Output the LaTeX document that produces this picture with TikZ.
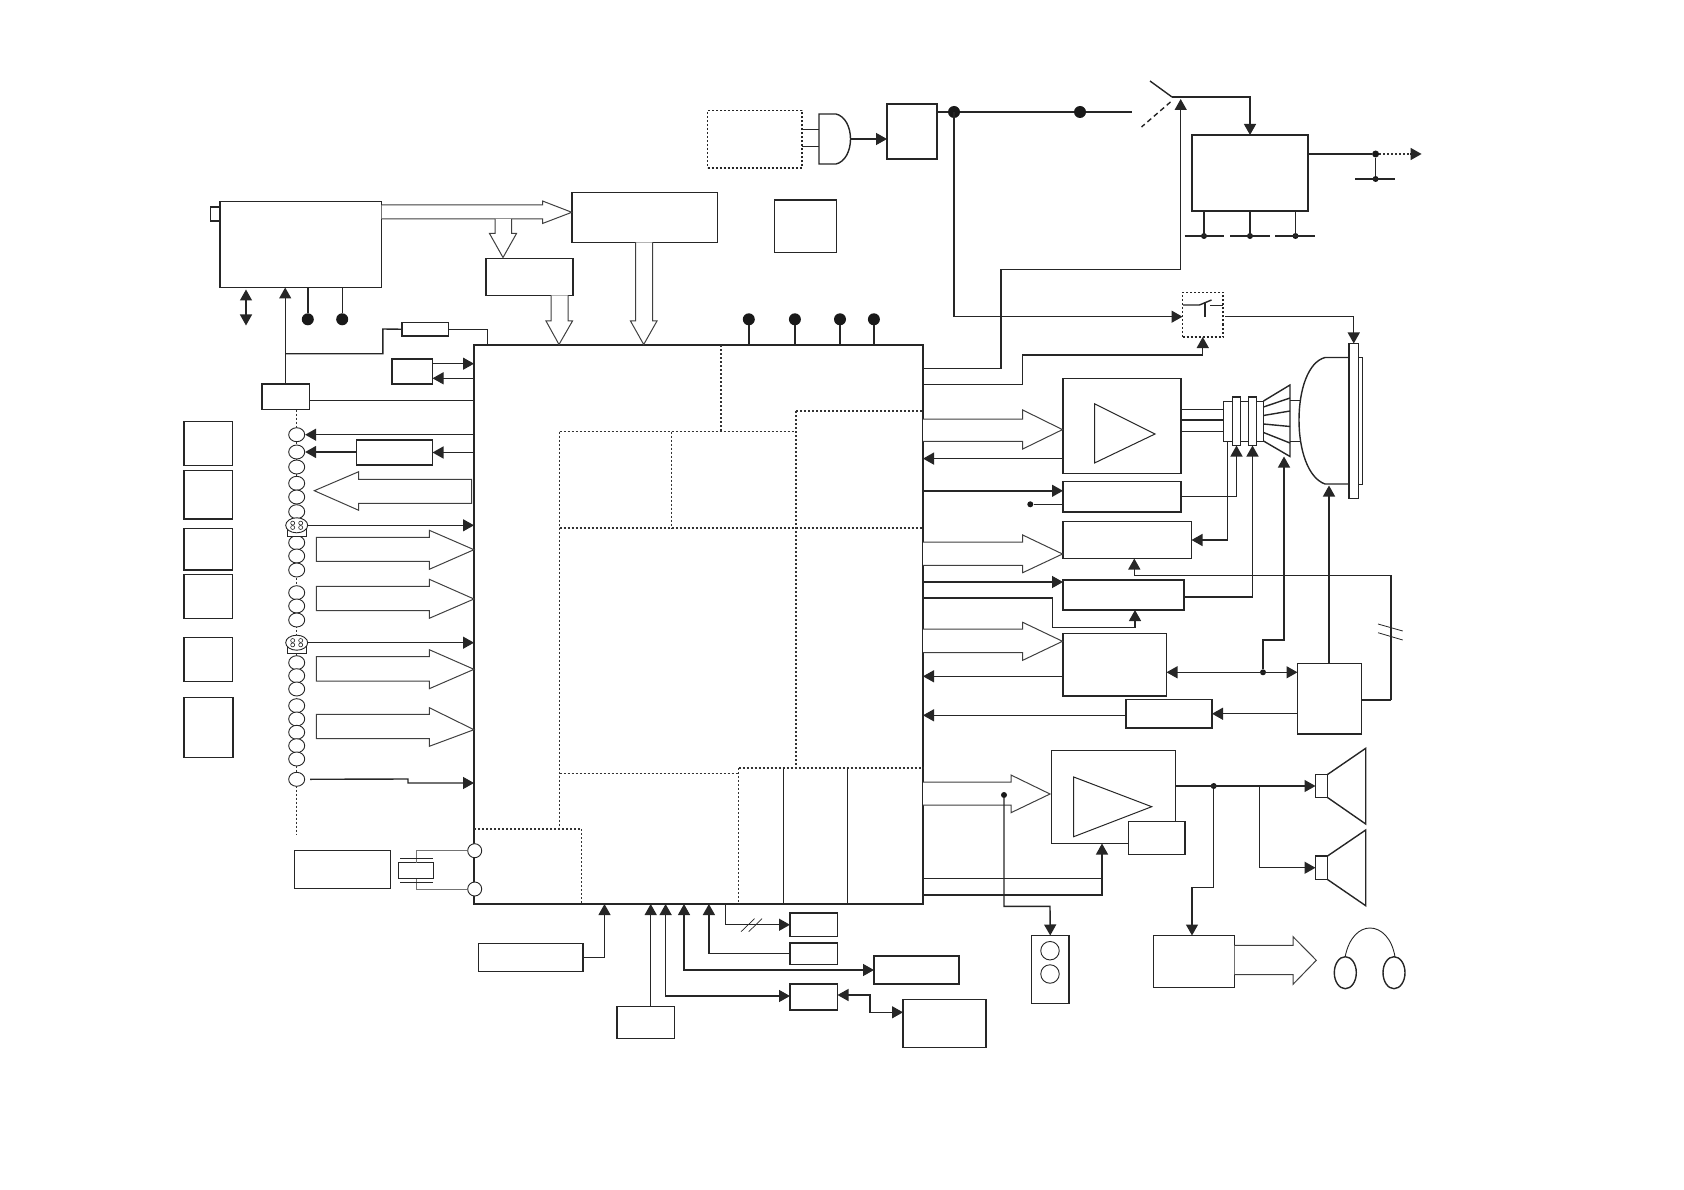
\documentclass[tikz,border=0pt]{standalone}
\usepackage{tikz}
\usetikzlibrary{arrows.meta,shapes.geometric}

\begin{document}
\begin{tikzpicture}[
        x=1pt,
        y=-1pt,
        lin/.style={
            line width=1.4pt,
            draw=black!85
        },
        arrow/.style={
            lin,
            -{Triangle[length=11pt,width=12pt]}
        },
        both/.style={
            lin,
            {Triangle[length=11pt,width=12pt]}-{Triangle[length=11pt,width=12pt]}
        },
        box/.style={
            rectangle,
            draw=black!85,
            line width=1.2pt,
            fill=white,
            inner sep=0pt,
            outer sep=0pt,
            anchor=north west
        },
        hollow/.style={
            line width=1pt,
            draw=black!75,
            fill=white,
            line join=miter
        },
        dotbox/.style={
            box,
            dash pattern=on 2pt off 2pt
        },
        dotline/.style={
            line width=1.3pt,
            draw=black!80,
            dash pattern=on 2pt off 2pt
        },
        bigdot/.style={
            circle,
            fill=black!90,
            inner sep=0pt,
            minimum size=12pt
        },
        smalldot/.style={
            circle,
            fill=black!90,
            inner sep=0pt,
            minimum size=6pt
        },
        bead/.style={
            ellipse,
            draw=black!85,
            line width=0.9pt,
            fill=white,
            inner sep=0pt,
            minimum width=16pt,
            minimum height=14pt
        },
        ring/.style={
            circle,
            draw=black!85,
            line width=0.9pt,
            fill=white,
            inner sep=0pt
        }
    ]
    \useasboundingbox (0,0) rectangle (1684,1190);

    % main chip
    \node[box, minimum width=449pt, minimum height=559pt] (ic) at (474,345) {};

    % blocks inside the chip
    \draw[dotline] (721,345) -- (721,431.5);
    \draw[dotline] (559.5,431.5) -- (796,431.5);
    \draw[dotline] (796,411) -- (923,411);
    \draw[dotline] (796,411) -- (796,768);
    \draw[dotline] (671.5,431.5) -- (671.5,528);
    \draw[dotline] (559.5,528) -- (923,528);
    \draw[dotline] (559.5,431.5) -- (559.5,829);
    \draw[dotline] (474,829) -- (581.5,829);
    \draw[dotline] (581.5,829) -- (581.5,904);
    \draw[dotline] (559.5,773.5) -- (738.5,773.5);
    \draw[dotline] (738.5,768) -- (738.5,904);
    \draw[dotline] (738.5,768) -- (923,768);
    \draw[lin, line width=1pt] (783.5,768) -- (783.5,904);
    \draw[lin, line width=1pt] (847.5,768) -- (847.5,904);

    % top row
    \node[dotbox, minimum width=94.5pt, minimum height=57.5pt] (remote) at (707.5,110.5) {};
    \node[box, minimum width=50pt, minimum height=55pt] (regul) at (887,104) {};
    \node[box, minimum width=62pt, minimum height=52.5pt] (memo) at (774.5,200) {};
    \node[box, minimum width=116pt, minimum height=76pt] (power) at (1192,135) {};
    \node[dotbox, minimum width=40.5pt, minimum height=44.5pt] (relay) at (1182.5,292.5) {};

    % upper left
    \node[box, minimum width=161.5pt, minimum height=86pt] (tuner) at (220,201.5) {};
    \node[box, minimum width=9.5pt, minimum height=14pt] (stub) at (210.5,207) {};
    \node[box, minimum width=145.5pt, minimum height=50pt] (sound) at (572,192.5) {};
    \node[box, minimum width=87pt, minimum height=37pt] (sif) at (486,258.5) {};
    \node[box, minimum width=46.5pt, minimum height=13.5pt] (res) at (402,322.5) {};
    \node[box, line width=1.5pt, minimum width=40.5pt, minimum height=25pt] (eep) at (392,359) {};
    \node[box, line width=1.5pt, minimum width=47.5pt, minimum height=25.5pt] (agc) at (262,384) {};
    \node[box, line width=1.5pt, minimum width=76pt, minimum height=25pt] (out) at (356.5,440) {};

    % left column
    \node[box, minimum width=48.5pt, minimum height=44pt] (inA) at (184,421.5) {};
    \node[box, minimum width=48.5pt, minimum height=48.5pt] (inB) at (184,470.5) {};
    \node[box, minimum width=48.5pt, minimum height=41.5pt] (inC) at (184,528.5) {};
    \node[box, minimum width=48.5pt, minimum height=44pt] (inD) at (184,574.5) {};
    \node[box, minimum width=48.5pt, minimum height=44pt] (inE) at (184,637.5) {};
    \node[box, minimum width=49pt, minimum height=60pt] (inF) at (184,697.5) {};
    \node[box, minimum width=96pt, minimum height=38pt] (clock) at (294.5,850.5) {};

    % video side
    \node[box, minimum width=118pt, minimum height=95pt] (rgb) at (1063,378.5) {};
    \node[box, minimum width=118pt, minimum height=30.5pt] (cut) at (1063,481.5) {};
    \node[box, minimum width=128.5pt, minimum height=37pt] (rot) at (1063,521.5) {};
    \node[box, minimum width=121pt, minimum height=30pt] (vert) at (1063,580) {};
    \node[box, minimum width=103.5pt, minimum height=62.5pt] (hor) at (1063,633.5) {};
    \node[box, minimum width=86pt, minimum height=28.5pt] (prot) at (1126,699.5) {};
    \node[box, minimum width=64pt, minimum height=70.5pt] (hv) at (1297.5,663.5) {};

    % audio side
    \node[box, minimum width=124pt, minimum height=93pt] (audio) at (1051.5,750.5) {};
    \node[box, minimum width=56.5pt, minimum height=33pt] (mute) at (1128.5,821.5) {};
    \node[box, minimum width=37.5pt, minimum height=68pt] (jack) at (1031.5,935.5) {};
    \node[box, minimum width=81pt, minimum height=52pt] (phone) at (1153.5,935.5) {};
    \node[box, minimum width=12pt, minimum height=23pt] (spkA) at (1315.5,774.5) {};
    \node[box, minimum width=12pt, minimum height=23.5pt] (spkB) at (1315.5,856) {};

    % bottom row
    \node[box, minimum width=104.5pt, minimum height=28pt] (key) at (478.5,943.5) {};
    \node[box, minimum width=57.5pt, minimum height=32pt] (ir) at (617,1006.5) {};
    \node[box, minimum width=47.5pt, minimum height=23.5pt] (led) at (790,913) {};
    \node[box, minimum width=47.5pt, minimum height=21.5pt] (reset) at (790,943) {};
    \node[box, minimum width=47.5pt, minimum height=26pt] (flash) at (790,984) {};
    \node[box, minimum width=85pt, minimum height=28pt] (nvm) at (874,956) {};
    \node[box, minimum width=83pt, minimum height=48pt] (ddr) at (903,999.5) {};

    % picture tube
    \draw[lin] (1349,357.5) -- (1325,357.5) .. controls (1308,362) and (1299,390) .. (1299,420)
        .. controls (1299,450) and (1308,478) .. (1325,484) -- (1349,484);
    \draw[lin, line width=1pt] (1290,400) -- (1300,400);
    \draw[lin, line width=1pt] (1290,441) -- (1300,441);
    \node[box, line width=1pt, minimum width=4pt, minimum height=126.5pt] (rear) at (1358.5,357.5) {};
    \node[box, minimum width=9.5pt, minimum height=155pt] (face) at (1349,343.5) {};
    \node[box, line width=1pt, minimum width=40pt, minimum height=40pt] (neck) at (1223.5,401) {};
    \node[box, line width=1.5pt, minimum width=8pt, minimum height=48.5pt] (coilA) at (1232.5,397) {};
    \node[box, line width=1.5pt, minimum width=8pt, minimum height=48.5pt] (coilB) at (1248.5,397) {};
    \coordinate (yoke) at (1284,456.5);
    \draw[lin] (neck.north east) -- (1290,385) -- (1290,456.5) -- (neck.south east);
    \draw[lin] (1263.5,407) -- (1290,398);
    \draw[lin] (1263.5,415.5) -- (1290,411);
    \draw[lin] (1263.5,424) -- (1290,426.5);
    \draw[lin] (1263.5,432.5) -- (1290,443);

    % beads
    \coordinate (busend) at (296.7,834.5);
    \draw[dotline] (agc.south -| busend) -- (busend);
    \foreach \yy [count=\i] in {434.7,452,467,483.3,497,511.7,542.7,556,570,592.7,606,620,
        662.7,675.7,689,705.7,719,732.3,745.7,759,779.3}
        \node[bead] (bead\i) at (296.7,\yy) {};
    \foreach \yy/\nm in {525.3/plugA,642.7/plugB}{
        \draw[lin, line width=0.9pt, fill=white] (287.5,\yy+4) rectangle (306,\yy+11);
        \node[bead, minimum width=22pt, minimum height=15pt] (\nm) at (296.7,\yy) {};
        \foreach \dx in {-4,4}
            \foreach \dy in {-2.2,2.2}
                \draw[line width=0.6pt, draw=black!85] (296.7+\dx,\yy+\dy) circle (2pt);
    }

    % bus arrows
    \draw[hollow] (381.5,205) -- (542.5,205) -- (542.5,201) -- (571.8,212.3) -- (542.5,223.5)
        -- (542.5,219) -- (381.5,219);
    \draw[hollow, fill=white] (495,219) -- (495,233.5) -- (489.5,233.5) -- (503,257.5)
        -- (516.5,233.5) -- (511.5,233.5) -- (511.5,219);
    \draw[hollow] (551,295.5) -- (551,321) -- (546,321) -- (559,344.5) -- (572.5,321)
        -- (568,321) -- (568,295.5);
    \draw[hollow] (635.5,242.5) -- (635.5,321) -- (630.5,321) -- (643.7,344.5) -- (657,321)
        -- (652.5,321) -- (652.5,242.5);
    \draw[hollow] (471.5,479.3) -- (358.7,479.3) -- (358.7,471.7) -- (314.3,490.7) -- (358.7,510.3)
        -- (358.7,503.3) -- (471.5,503.3) -- cycle;
    \foreach \ya/\yb/\yc/\yd/\ye in {537.3/561.3/530.3/569.3/549.7,586.3/610.7/579.3/618.3/599,
        656.7/681/649.7/688.7/669.3,714.3/738.7/707.7/746.3/729.7}
        \draw[hollow] (316.3,\ya) -- (429.3,\ya) -- (429.3,\yc) -- (474,\ye) -- (429.3,\yd)
            -- (429.3,\yb) -- (316.3,\yb) -- cycle;
    \foreach \ya/\yb/\yc/\yd/\ye/\xh/\xt in {419/441.4/410/449/429.6/1022.7/1062.5,
        542/565.3/535/572.7/554/1022.7/1062.5,629/652.7/622.3/660.3/641.3/1022.7/1062.5,
        782/805/775/812.7/794/1011/1050}
        \draw[hollow] (923,\ya) -- (\xh,\ya) -- (\xh,\yc) -- (\xt,\ye) -- (\xh,\yd)
            -- (\xh,\yb) -- (923,\yb);
    \draw[hollow] (1234.5,945.3) -- (1293,945.3) -- (1293,936.7) -- (1316.3,960.3) -- (1293,984.3)
        -- (1293,974.7) -- (1234.5,974.7);

    % gate in front of the regulator
    \coordinate (gate) at (850.5,139);
    \draw[lin, fill=white] (819,114) -- (836,114) .. controls (845,116) and (850.5,127) .. (gate)
        .. controls (850.5,151) and (845,162) .. (836,164) -- (819,164) -- cycle;
    \draw[lin, line width=1pt] (remote.east |- 0,130) -- (819,130);
    \draw[lin, line width=1pt] (remote.east |- 0,147) -- (819,147);
    \draw[arrow] (gate) -- (regul.west |- gate);

    % mains line and switch
    \coordinate (swin) at (1132,112);
    \coordinate (swpole) at (1172,97);
    \coordinate (feed) at (1180.7,99);
    \draw[lin] (regul.east |- swin) -- (swin);
    \node[bigdot] (nodeA) at (954,112) {};
    \node[bigdot] (nodeB) at (1080,112) {};
    \draw[lin] (1150,81) -- (swpole);
    \draw[lin, dash pattern=on 5pt off 3.5pt] (1170.5,102) -- (1141.5,127);
    \draw[arrow] (swpole) -| (power.north);
    \draw[arrow] (ic.east |- 0,368.5) -- (1001,368.5) -- (1001,269.7) -| (feed);
    \draw[arrow] (nodeA.center) |- (relay.west |- 0,316.7);
    \draw[arrow] (ic.east |- 0,384.5) -- (1022.5,384.5) -- (1022.5,355) -| (relay.south);

    % switch in the dotted box
    \draw[lin] (1183,305) -- (1199.5,305) -- (1211.5,300);
    \draw[lin] (1205,302.5) -- (1205,316.7);
    \draw[lin] (1210,305.7) -- (1223,305.7);
    \draw[arrow] (1225,316.7) -| (face.north);

    % power supply outputs
    \node[smalldot, minimum size=7pt] (nodeC) at (1375.6,154) {};
    \node[smalldot] (nodeD) at (1375.6,179) {};
    \coordinate (hvout) at (1421.6,154);
    \draw[lin] (power.east |- nodeC) -- (nodeC);
    \draw[dotline] (nodeC) -- (1410,154);
    \draw[arrow, draw=black!85] (1410,154) -- (hvout);
    \draw[lin] (nodeC) -- (nodeD);
    \draw[lin] (1355,179) -- (1395,179);
    \foreach \xx/\xa/\xb in {1204/1184.5/1224,1250/1230/1270,1295.5/1275/1315}{
        \node[smalldot] at (\xx,236) {};
        \draw[lin] (\xx,211) -- (\xx,236);
        \draw[lin] (\xa,236) -- (\xb,236);
    }

    % pins on top of the chip
    \foreach \xx/\nm in {748.8/pinA,794.9/pinB,840/pinC,873.9/pinD}{
        \node[bigdot] (\nm) at (\xx,319.3) {};
        \draw[lin] (\nm) -- (ic.north -| \nm);
    }

    % tuner connections
    \draw[both] (246,289.5) -- (246,325.5);
    \draw[arrow] (agc.north -| 285.2,0) -- (tuner.south -| 285.2,0);
    \node[bigdot] (pinE) at (307.8,319.3) {};
    \node[bigdot] (pinF) at (342.2,319.3) {};
    \draw[lin] (pinE) -- (tuner.south -| pinE);
    \draw[lin] (pinF) -- (tuner.south -| pinF);
    \draw[lin] (285.2,353.7) -- (382.8,353.7) -- (382.8,329) -- (res.west);
    \draw[lin] (res.east) -| (ic.north -| 487.6,0);
    \draw[arrow] (eep.east |- 0,363.7) -- (ic.west |- 0,363.7);
    \draw[arrow, line width=1pt] (ic.west |- 0,378.3) -- (eep.east |- 0,378.3);
    \draw[lin] (agc.east |- 0,400.7) -- (ic.west |- 0,400.7);

    % left side connections
    \draw[arrow] (ic.west |- bead1) -- (bead1.east);
    \draw[arrow] (out.west |- bead2) -- (bead2.east);
    \draw[arrow] (ic.west |- out) -- (out.east);
    \draw[arrow] (plugA.east) -- (ic.west |- plugA);
    \draw[arrow] (plugB.east) -- (ic.west |- plugB);
    \draw[arrow] ([xshift=5pt]bead21.east) -- (408,779) -- (408,783) -- (ic.west |- 0,783);

    % crystal
    \node[ring, minimum size=14pt] (oscA) at (474.7,850.7) {};
    \node[ring, minimum size=14pt] (oscB) at (474.7,889) {};
    \node[box, line width=1pt, minimum width=35pt, minimum height=16pt] (xtal) at (398.5,862.5) {};
    \draw[line width=1pt, draw=black!55] (oscA.west) -| (xtal.north);
    \draw[line width=1pt, draw=black!55] (oscB.west) -| (xtal.south);
    \draw[line width=1pt, draw=black!85] (400,858.3) -- (432.7,858.3);
    \draw[line width=1pt, draw=black!85] (400,882.3) -- (432.7,882.3);

    % video connections
    \draw[lin] (rgb.east |- 0,409.5) -- (neck.west |- 0,409.5);
    \draw[lin] (rgb.east |- 0,420) -- (neck.west |- 0,420);
    \draw[lin] (rgb.east |- 0,431.5) -- (neck.west |- 0,431.5);
    \node[ring, draw=none, minimum size=0pt] (triA) at (1094.5,403.8) {};
    \draw[lin, line width=1pt] (triA.center) -- (1155,434) -- (1094.5,463) -- cycle;
    \draw[arrow] (rgb.west |- 0,458.6) -- (ic.east |- 0,458.6);
    \draw[arrow] (ic.east |- 0,490.8) -- (cut.west |- 0,490.8);
    \node[smalldot] (blank) at (1030.3,504.3) {};
    \draw[lin, line width=1pt] (blank) -- (cut.west |- blank);
    \draw[arrow] (cut.east) -| (coilA.south);
    \draw[arrow] (vert.east |- 0,597) -| (coilB.south);
    \draw[arrow] (1227.5,441) |- (rot.east);
    \draw[arrow] (1391,700) -- (1391,575.7) -- (1134.3,575.7) -- (rot.south -| 1134.3,0);
    \draw[lin] (hv.east |- 0,700) -- (1391,700);
    \draw[lin, line width=0.8pt] (1378,624) -- (1402.7,631);
    \draw[lin, line width=0.8pt] (1378,632.7) -- (1402.7,640);
    \draw[arrow] (ic.east |- 0,582) -- (vert.west |- 0,582);
    \draw[arrow] (ic.east |- 0,598) -- (1052.7,598) -- (1052.7,627.3) -- (1135,627.3) -- (vert.south -| 1135,0);
    \node[smalldot] (join) at (1263,672.3) {};
    \draw[both] (hor.east |- join) -- (hv.west |- join);
    \draw[arrow] (join) -- (1263,640) -- (1284,640) -- (yoke);
    \draw[arrow] (hor.west |- 0,676.3) -- (ic.east |- 0,676.3);
    \draw[arrow] (prot.west |- 0,715.3) -- (ic.east |- 0,715.3);
    \draw[arrow] (hv.west |- prot) -- (prot.east);
    \draw[arrow] (hv.north -| 1329,0) -- (1329,485.5);

    % audio connections
    \node[ring, draw=none, minimum size=0pt] (triB) at (1073.7,777) {};
    \draw[lin, line width=1pt] (triB.center) -- (1151.7,806.7) -- (1073.7,836.7) -- cycle;
    \node[smalldot] (tap) at (1004,795) {};
    \draw[arrow] (tap) |- (1050,906.3) -- (jack.north);
    \node[ring, minimum size=18.5pt] (socketA) at (1050,950.7) {};
    \node[ring, minimum size=18.5pt] (socketB) at (1050,974) {};
    \draw[lin] (ic.east |- 0,878.3) -- (1102,878.3);
    \draw[arrow] (ic.east |- 0,895) -- (1102,895) -- (audio.south -| 1102,0);
    \node[smalldot] (split) at (1213.7,786) {};
    \draw[arrow] (audio.east |- spkA) -- (spkA.west);
    \draw[arrow] (split) -- (1213.7,887.7) -- (1192,887.7) -- (phone.north -| 1192,0);
    \draw[arrow] (1259.7,786) |- (spkB.west);
    \draw[lin] (spkA.north east) -- (1365.7,748.3) -- (1365.7,824) -- (spkA.south east);
    \draw[lin] (spkB.north east) -- (1365.7,830) -- (1365.7,905.7) -- (spkB.south east);

    % headphones
    \node[ellipse, draw=black!85, line width=1.4pt, inner sep=0pt, minimum width=22pt, minimum height=32pt] (earA) at (1345.3,972.7) {};
    \node[ellipse, draw=black!85, line width=1.4pt, inner sep=0pt, minimum width=22pt, minimum height=32pt] (earB) at (1394,972.7) {};
    \draw[line width=0.9pt, draw=black!85] (earA.north) .. controls (1349,938) and (1359,928) .. (1370,928)
        .. controls (1381,928) and (1392,938) .. (1395,957);

    % bottom connections
    \draw[arrow, line width=1.1pt] (key.east) -| (ic.south -| 604.5,0);
    \draw[arrow] (ir.north -| 650.7,0) -- (ic.south -| 650.7,0);
    \draw[both] (ic.south -| 665.6,0) |- (flash.west |- 0,996);
    \draw[both] (ic.south -| 684,0) |- (nvm.west |- 0,970);
    \draw[arrow] (reset.west) -| (ic.south -| 708.9,0);
    \draw[arrow] (ic.south -| 725.4,0) |- (led.west);
    \draw[lin, line width=0.7pt] (741,931.7) -- (754.5,918.7);
    \draw[lin, line width=0.7pt] (748.7,931.7) -- (762,918.7);
    \draw[both] (flash.east |- 0,995) -- (870,995) -- (870,1012.3) -- (ddr.west |- 0,1012.3);

\end{tikzpicture}
\end{document}
